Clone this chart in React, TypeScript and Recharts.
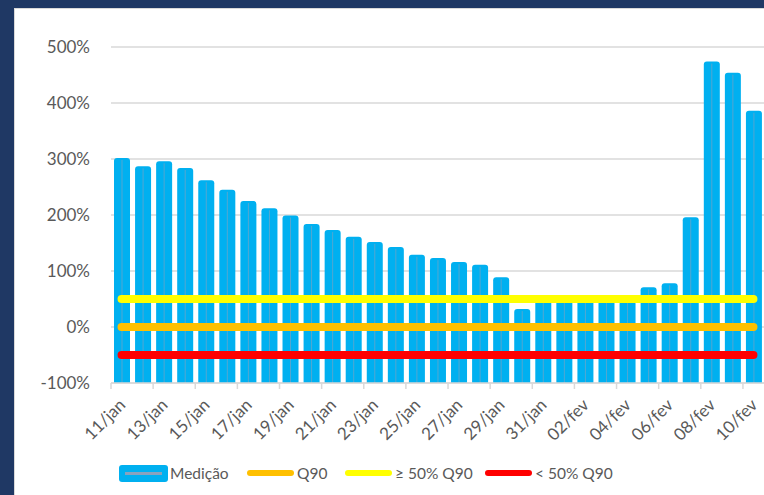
import { ComposedChart, Bar, Line, XAxis, YAxis, CartesianGrid } from 'recharts'

const dates = [
  '11/jan', '12/jan', '13/jan', '14/jan', '15/jan', '16/jan', '17/jan', '18/jan', '19/jan', '20/jan',
  '21/jan', '22/jan', '23/jan', '24/jan', '25/jan', '26/jan', '27/jan', '28/jan', '29/jan', '30/jan',
  '31/jan', '01/fev', '02/fev', '03/fev', '04/fev', '05/fev', '06/fev', '07/fev', '08/fev', '09/fev',
  '10/fev',
]

// medição em % do Q90
const medicao = [
  302, 287, 296, 284, 262, 245, 225, 212, 199, 184,
  173, 161, 152, 143, 129, 123, 116, 111, 89, 32,
  48, 50, 49, 50, 47, 71, 78, 196, 474, 454,
  386,
]

const q90 = [
  0, 0, 0, 0, 0, 0, 0, 0, 0, 0,
  0, 0, 0, 0, 0, 0, 0, 0, 0, 0,
  0, 0, 0, 0, 0, 0, 0, 0, 0, 0,
  0,
]

const acima50 = [
  50, 50, 50, 50, 50, 50, 50, 50, 50, 50,
  50, 50, 50, 50, 50, 50, 50, 50, 50, 50,
  50, 50, 50, 50, 50, 50, 50, 50, 50, 50,
  50,
]

const abaixo50 = [
  -50, -50, -50, -50, -50, -50, -50, -50, -50, -50,
  -50, -50, -50, -50, -50, -50, -50, -50, -50, -50,
  -50, -50, -50, -50, -50, -50, -50, -50, -50, -50,
  -50,
]

const yTicks = [-100, 0, 100, 200, 300, 400, 500]

const data = dates.map((d, i) => ({
  name: d,
  medicao: medicao[i],
  q90: q90[i],
  acima50: acima50[i],
  abaixo50: abaixo50[i],
}))

const FONT = 'Lato, "Open Sans", sans-serif'
const TEXT = '#595959'

function BarShape(props: any) {
  const { x, y, width, height, fill } = props
  if (!width || !height) return null
  const r = 3
  const cx = x + width / 2
  return (
    <g>
      <path
        d={`M${x},${y + height} L${x},${y + r} Q${x},${y} ${x + r},${y} L${x + width - r},${y} Q${x + width},${y} ${x + width},${y + r} L${x + width},${y + height} Z`}
        fill={fill}
      />
      <line x1={cx} x2={cx} y1={y + 2} y2={y + height} stroke="#8aa2bd" strokeWidth={1} opacity={0.6} />
    </g>
  )
}

function XTick(props: any) {
  const { x, y, payload } = props
  const off = payload && payload.offset != null ? payload.offset : 10.5
  const tx = x + 5
  const ty = y + 23
  return (
    <g>
      <line x1={x - off} x2={x - off} y1={y} y2={y + 6} stroke="#d9d9d9" strokeWidth={1.5} />
      <text x={tx} y={ty} textAnchor="end" fill={TEXT} fontSize={17} fontFamily={FONT} transform={`rotate(-45, ${tx}, ${ty})`}>
        {payload.value}
      </text>
    </g>
  )
}

const legendItems = [
  { label: 'Medição', color: '#00b0f0', kind: 'bar', left: 119 },
  { label: 'Q90', color: '#ffc000', kind: 'line', left: 247 },
  { label: '≥ 50% Q90', color: '#ffff00', kind: 'line', left: 345 },
  { label: '< 50% Q90', color: '#ff0000', kind: 'line', left: 485 },
]

export default function App() {
  return (
    <div style={{ position: 'fixed', left: 0, top: 0, width: 764, height: 495, background: '#1f3864', overflow: 'hidden' }}>
      <div style={{ position: 'absolute', left: 14, top: 8, width: 760, height: 500, background: '#fff', borderLeft: '1px solid #d9d9d9', borderTop: '1px solid #d9d9d9' }} />
      <div style={{ position: 'absolute', left: 0, top: 0 }}>
        <ComposedChart width={764} height={495} data={data} margin={{ top: 47, right: 0, bottom: 52, left: 0 }} barSize={16}>
          <CartesianGrid vertical={false} stroke="#d9d9d9" strokeWidth={1.5} />
          <XAxis
            dataKey="name"
            interval={1}
            height={60}
            tickSize={0}
            tickMargin={0}
            tick={<XTick />}
            axisLine={{ stroke: '#d9d9d9', strokeWidth: 1.5 }}
            tickLine={false}
          />
          <YAxis
            domain={[-100, 500]}
            ticks={yTicks}
            width={111}
            tickSize={0}
            tickMargin={21}
            axisLine={false}
            tickLine={false}
            tickFormatter={(v: number) => `${v}%`}
            tick={{ fontSize: 17, fill: TEXT, fontFamily: FONT }}
          />
          <Bar
            dataKey={(d: any) => [-100, d.medicao]}
            fill="#00b0f0"
            shape={<BarShape />}
            isAnimationActive={false}
          />
          <Line dataKey="q90" stroke="#ffc000" strokeWidth={8} strokeLinecap="round" dot={false} activeDot={false} isAnimationActive={false} />
          <Line dataKey="acima50" stroke="#ffff00" strokeWidth={8} strokeLinecap="round" dot={false} activeDot={false} isAnimationActive={false} />
          <Line dataKey="abaixo50" stroke="#ff0000" strokeWidth={8} strokeLinecap="round" dot={false} activeDot={false} isAnimationActive={false} />
        </ComposedChart>
      </div>
      {legendItems.map((it) => (
        <div key={it.label} style={{ position: 'absolute', left: it.left, top: 463, height: 20, display: 'flex', alignItems: 'center', fontFamily: FONT, fontSize: 15.5, color: TEXT, whiteSpace: 'nowrap' }}>
          {it.kind === 'bar' ? (
            <div style={{ width: 49, height: 17, background: it.color, borderRadius: 3, position: 'relative', marginRight: 2 }}>
              <div style={{ position: 'absolute', left: 6, right: 6, top: 7, height: 3, background: '#8aa2bd' }} />
            </div>
          ) : (
            <div style={{ width: 47, height: 6, background: it.color, borderRadius: 3, marginRight: 3 }} />
          )}
          {it.label}
        </div>
      ))}
    </div>
  )
}
